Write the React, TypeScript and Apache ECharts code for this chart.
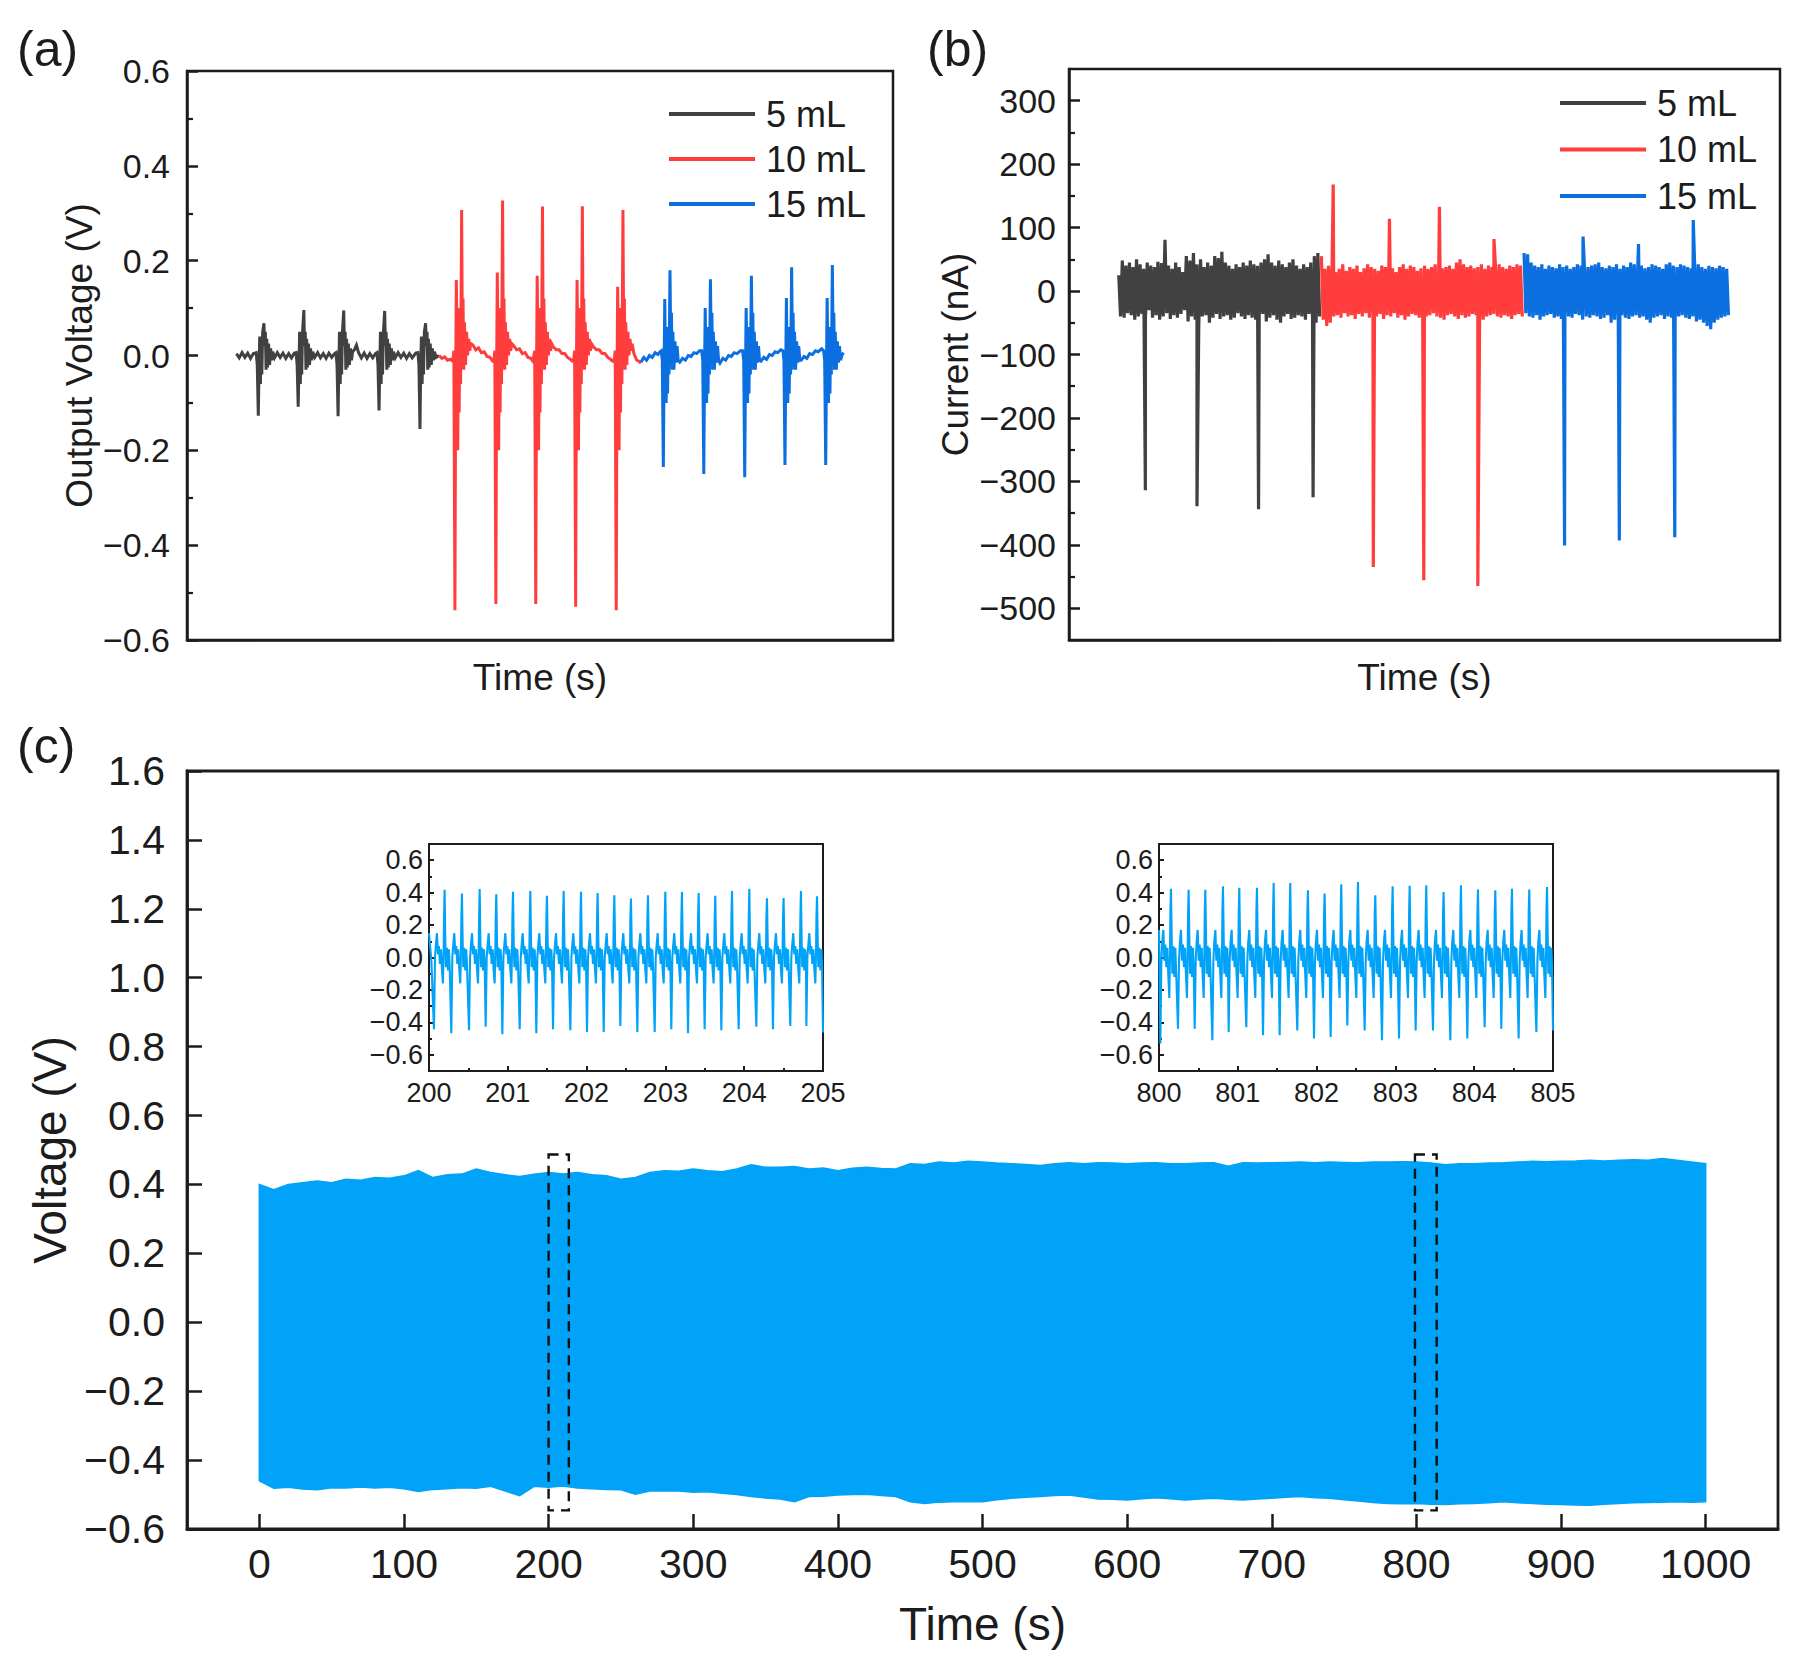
import React, { useEffect, useRef } from 'react';
import * as echarts from 'echarts';

const FONT = '"Liberation Sans", Arial, Helvetica, sans-serif';
const INK = '#1c1c1c';
const C_BLACK = '#414141';
const C_RED = '#ff3d3d';
const C_BLUE = '#0b6fe0';
const C_SKY = '#00a3f8';

const SERIES_NAMES = ['5 mL', '10 mL', '15 mL'];

// ---------- panel (a): output voltage (V), arbitrary time 0..100 ----------
const aBlackBase = [
  [7.0, 0.004], [7.4, -0.005], [7.8, 0.006], [8.2, -0.004], [8.6, 0.005], [9.0, -0.006], [9.4, 0.004],
  [12.4, -0.005], [12.8, 0.006], [13.2, -0.004], [13.6, 0.005], [14.0, -0.006], [14.4, 0.004], [14.8, -0.005], [15.2, 0.005],
  [18.1, -0.004], [18.5, 0.006], [18.9, -0.005], [19.3, 0.004], [19.7, -0.006], [20.1, 0.005], [20.5, -0.004], [20.9, 0.004],
  [23.7, 0.012], [24.0, 0.022], [24.3, 0.006], [24.7, -0.005], [25.1, 0.005], [25.5, -0.006], [25.9, 0.004], [26.3, -0.005], [26.7, 0.004],
  [29.5, -0.005], [29.9, 0.006], [30.3, -0.004], [30.7, 0.005], [31.1, -0.006], [31.5, 0.004], [31.9, -0.005], [32.4, 0.005],
  [35.3, -0.004], [35.7, 0.0],
];
const aBlackTimes = [10.1, 15.75, 21.4, 27.2, 33.0];
const aBlackDown = [-0.127, -0.108, -0.128, -0.116, -0.155];
const aBlackUp = [0.068, 0.096, 0.095, 0.094, 0.068];
const aBlackShoulder = [0.04, 0.05, 0.05, 0.05, 0.04];
const aBlackTpl = [
  [-0.3, 0.006], [-0.15, -0.02], [0, 'D'], [0.1, -0.03], [0.2, 'S'], [0.3, -0.06], [0.4, 0.04], [0.5, -0.04],
  [0.62, 0.05], [0.8, 'U'], [0.9, 0.02], [1.0, 0.05], [1.1, -0.03], [1.2, 0.035], [1.3, -0.025], [1.45, 0.025],
  [1.6, -0.02], [1.75, 0.015], [1.9, -0.01], [2.05, 0.008],
];

const aRedBase = [
  [35.7, 0.0], [36.1, -0.006], [36.5, -0.003], [36.9, -0.01], [37.3, -0.008],
  [40.5, 0.022], [40.9, 0.012], [41.3, 0.016], [41.7, 0.006], [42.1, 0.008], [42.5, -0.002], [42.9, -0.004], [43.3, -0.012],
  [46.3, 0.02], [46.7, 0.012], [47.1, 0.014], [47.5, 0.004], [47.9, 0.006], [48.3, -0.004], [48.7, -0.006], [49.0, -0.012],
  [51.9, 0.018], [52.3, 0.012], [52.7, 0.012], [53.1, 0.004], [53.5, 0.004], [53.9, -0.004], [54.3, -0.008], [54.6, -0.012],
  [57.6, 0.018], [58.0, 0.012], [58.4, 0.012], [58.8, 0.004], [59.2, 0.004], [59.6, -0.004], [60.0, -0.008], [60.3, -0.012],
  [63.3, 0.004], [63.7, -0.01], [64.0, -0.012], [64.3, -0.016],
];
const aRedTimes = [37.95, 43.75, 49.4, 55.05, 60.8];
const aRedDown = [-0.537, -0.524, -0.524, -0.53, -0.537];
const aRedUp = [0.307, 0.327, 0.314, 0.315, 0.307];
const aRedShoulder = [0.159, 0.175, 0.168, 0.159, 0.145];
const aRedTpl = [
  [-0.3, -0.012], [-0.15, 0.01], [0, 'D'], [0.1, -0.05], [0.2, 'S'], [0.3, 0.02], [0.4, -0.2], [0.5, 0.1],
  [0.6, -0.12], [0.7, 0.08], [0.8, -0.06], [0.95, 'U'], [1.05, 0.04], [1.15, 0.12], [1.25, -0.03], [1.35, 0.07],
  [1.5, -0.02], [1.65, 0.05], [1.8, 0.0], [1.95, 0.035], [2.1, 0.01], [2.25, 0.025],
];

const aBlueBase = [
  [64.3, -0.014], [64.7, -0.004], [65.1, -0.01], [65.5, 0.0], [65.9, -0.004], [66.3, 0.006], [66.7, 0.002], [67.0, 0.008],
  [69.8, -0.014], [70.2, -0.006], [70.6, -0.01], [71.0, 0.0], [71.4, -0.002], [71.8, 0.006], [72.2, 0.004], [72.6, 0.01],
  [75.5, -0.016], [75.9, -0.006], [76.3, -0.01], [76.7, 0.0], [77.1, -0.002], [77.5, 0.006], [77.9, 0.004], [78.4, 0.01],
  [81.3, -0.012], [81.7, -0.004], [82.1, -0.008], [82.5, 0.002], [82.9, 0.0], [83.3, 0.008], [83.7, 0.006], [84.1, 0.012],
  [87.0, -0.01], [87.4, -0.002], [87.8, -0.006], [88.2, 0.004], [88.6, 0.002], [89.0, 0.01], [89.4, 0.008], [89.9, 0.014],
  [92.8, 0.002], [93.0, 0.006],
];
const aBlueTimes = [67.47, 73.2, 79.0, 84.7, 90.47];
const aBlueDown = [-0.235, -0.25, -0.257, -0.231, -0.231];
const aBlueUp = [0.18, 0.161, 0.168, 0.186, 0.191];
const aBlueShoulder = [0.119, 0.1, 0.1, 0.121, 0.121];
const aBlueTpl = [
  [-0.3, 0.01], [-0.15, -0.01], [0, 'D'], [0.1, -0.04], [0.2, 'S'], [0.3, 0.0], [0.4, -0.1], [0.5, 0.06],
  [0.6, -0.08], [0.7, 0.05], [0.8, -0.04], [0.94, 'U'], [1.05, 0.03], [1.15, 0.09], [1.25, -0.03], [1.35, 0.05],
  [1.5, -0.03], [1.65, 0.03], [1.8, -0.015], [1.95, 0.02], [2.1, -0.01],
];

const aYMajor = [-0.6, -0.4, -0.2, 0, 0.2, 0.4, 0.6];
const aYMinor = [-0.5, -0.3, -0.1, 0.1, 0.3, 0.5];

// ---------- panel (b): current (nA), arbitrary time 0..100 ----------
const bBlackStart = 7.0;
const bBlackHi = [25, 48, 40, 45, 38, 50, 42, 35, 45, 40, 38, 46, 44, 81, 40, 35, 45, 38, 30, 55, 48, 60, 42, 50, 38, 45, 40, 55, 52, 62, 45, 40, 35, 42, 38, 45, 40, 48, 42, 40, 45, 50, 58, 45, 40, 48, 42, 38, 45, 50, 40, 35, 42, 38, 45, 55, 60];
const bBlackLo = [-40, -42, -35, -38, -45, -40, -36, -44, -30, -42, -38, -45, -40, -35, -44, -38, -42, -36, -30, -48, -40, -45, -55, -40, -38, -50, -42, -36, -44, -40, -38, -45, -42, -35, -40, -44, -38, -42, -45, -40, -36, -48, -42, -38, -45, -50, -40, -36, -44, -42, -38, -40, -45, -36, -42, -50, -40];
const bBlackSpikes = [[10.74, -314], [18.0, -339], [26.66, -344], [34.33, -325]];

const bRedStart = 35.5;
const bRedHi = [55, 35, 40, 38, 30, 35, 42, 32, 38, 35, 40, 30, 36, 42, 38, 35, 32, 40, 38, 45, 36, 30, 38, 42, 35, 40, 38, 32, 36, 40, 35, 38, 42, 30, 36, 38, 40, 35, 45, 50, 42, 38, 40, 36, 38, 42, 35, 40, 38, 36, 42, 38, 35, 40, 38, 42, 40];
const bRedLo = [-45, -55, -50, -40, -38, -42, -35, -40, -38, -44, -36, -40, -35, -42, -38, -40, -36, -44, -38, -40, -35, -42, -38, -45, -40, -36, -38, -42, -44, -40, -38, -35, -40, -42, -45, -38, -36, -40, -44, -38, -42, -40, -36, -38, -42, -45, -40, -38, -36, -40, -42, -38, -40, -44, -38, -36, -40];
const bRedSpikes = [[37.16, 168], [45.07, 114], [52.1, 133], [59.77, 82], [42.8, -435], [49.9, -456], [57.5, -465]];

const bBlueStart = 64.0;
const bBlueHi = [60, 58, 45, 40, 38, 42, 35, 40, 38, 36, 42, 38, 40, 35, 38, 42, 40, 36, 38, 40, 42, 45, 38, 36, 40, 38, 42, 35, 40, 38, 45, 42, 38, 40, 36, 38, 42, 40, 38, 35, 42, 45, 40, 38, 42, 40, 38, 36, 40, 42, 38, 35, 40, 38, 36, 40, 38, 35];
const bBlueLo = [-35, -40, -42, -38, -45, -40, -38, -36, -42, -40, -44, -38, -40, -42, -36, -38, -45, -40, -42, -38, -40, -44, -42, -38, -50, -45, -40, -38, -42, -44, -40, -38, -42, -40, -45, -50, -42, -40, -38, -44, -40, -42, -45, -40, -38, -42, -44, -40, -48, -45, -50, -55, -60, -50, -45, -42, -40, -38];
const bBlueSpikes = [[72.3, 86], [80.1, 74], [87.8, 112], [69.7, -401], [77.4, -393], [85.2, -388]];

const bYMajor = [-500, -400, -300, -200, -100, 0, 100, 200, 300];
const bYMinor = [-450, -350, -250, -150, -50, 50, 150, 250];

// ---------- panel (c): voltage envelope over 1000 s (every 10 s) ----------
const cUpper = [0.40, 0.385, 0.40, 0.405, 0.41, 0.405, 0.415, 0.412, 0.42, 0.418,
  0.425, 0.44, 0.42, 0.428, 0.43, 0.445, 0.435, 0.428, 0.423, 0.43,
  0.435, 0.43, 0.435, 0.428, 0.425, 0.415, 0.42, 0.435, 0.44, 0.438,
  0.445, 0.44, 0.437, 0.445, 0.457, 0.45, 0.45, 0.452, 0.445, 0.448,
  0.44, 0.447, 0.45, 0.446, 0.445, 0.46, 0.458, 0.465, 0.462, 0.467,
  0.465, 0.462, 0.46, 0.458, 0.455, 0.46, 0.463, 0.46, 0.463, 0.462,
  0.46, 0.462, 0.463, 0.46, 0.46, 0.462, 0.463, 0.453, 0.463, 0.462,
  0.463, 0.464, 0.465, 0.463, 0.465, 0.464, 0.463, 0.465, 0.465, 0.466,
  0.465, 0.462, 0.457, 0.46, 0.46, 0.462, 0.463, 0.465, 0.467, 0.466,
  0.467, 0.468, 0.47, 0.468, 0.47, 0.472, 0.47, 0.475, 0.47, 0.465, 0.46];
const cLower = [-0.46, -0.482, -0.479, -0.484, -0.486, -0.48, -0.481, -0.478, -0.481, -0.479,
  -0.483, -0.491, -0.485, -0.483, -0.48, -0.482, -0.476, -0.49, -0.503, -0.476,
  -0.479, -0.475, -0.481, -0.483, -0.485, -0.486, -0.499, -0.49, -0.489, -0.49,
  -0.493, -0.492, -0.496, -0.5, -0.506, -0.51, -0.513, -0.521, -0.506, -0.505,
  -0.501, -0.5, -0.499, -0.503, -0.506, -0.521, -0.526, -0.522, -0.521, -0.52,
  -0.521, -0.515, -0.511, -0.508, -0.506, -0.503, -0.501, -0.507, -0.513, -0.514,
  -0.516, -0.512, -0.509, -0.512, -0.516, -0.513, -0.511, -0.514, -0.516, -0.513,
  -0.511, -0.508, -0.506, -0.509, -0.511, -0.515, -0.519, -0.523, -0.526, -0.527,
  -0.526, -0.528, -0.529, -0.527, -0.526, -0.524, -0.521, -0.524, -0.526, -0.528,
  -0.529, -0.53, -0.531, -0.528, -0.526, -0.524, -0.523, -0.522, -0.521, -0.522, -0.521];
const cStep = 10;
const cXTicks = [0, 100, 200, 300, 400, 500, 600, 700, 800, 900, 1000];
const cYTicks = [-0.6, -0.4, -0.2, 0, 0.2, 0.4, 0.6, 0.8, 1.0, 1.2, 1.4, 1.6];
// zoom windows: [t start, t end, V top, V bottom]
const zoomBoxes = [
  [200, 214, 0.487, -0.546],
  [799, 814, 0.487, -0.546],
];

// ---------- insets ----------
const in1Start = [[200.0, 0.15], [200.03, -0.02]];
const in1NegT = [200.063, 200.283, 200.508, 200.719, 200.931, 201.151, 201.362, 201.574, 201.794, 202.005, 202.217, 202.428, 202.644, 202.864, 203.075, 203.287, 203.498, 203.71, 203.93, 204.154, 204.365, 204.585, 204.789, 205.0];
const in1NegV = [-0.443, -0.467, -0.449, -0.427, -0.473, -0.443, -0.467, -0.443, -0.449, -0.459, -0.459, -0.422, -0.459, -0.459, -0.443, -0.467, -0.443, -0.449, -0.443, -0.427, -0.443, -0.422, -0.422, -0.463];
const in1PosV = [0.418, 0.394, 0.422, 0.39, 0.406, 0.41, 0.38, 0.41, 0.406, 0.398, 0.384, 0.363, 0.384, 0.406, 0.404, 0.398, 0.38, 0.41, 0.424, 0.365, 0.367, 0.41, 0.378];
const in1Tpl = [
  [0.013, 0.0], [0.025, 0.08], [0.038, 0.15], [0.051, 0.02], [0.063, 0.07], [0.076, -0.04], [0.089, 0.05],
  [0.102, -0.08], [0.114, -0.16], [0.123, 0.05], [0.128, 0.25], [0.135, 'P'], [0.144, 0.1], [0.152, -0.06],
  [0.165, 0.06], [0.178, -0.08], [0.19, 0.05], [0.199, -0.05],
];

const in2Start = [[800.0, 0.17], [800.008, -0.1]];
const in2NegT = [800.017, 800.241, 800.453, 800.677, 800.884, 801.108, 801.32, 801.531, 801.755, 801.967, 802.178, 802.39, 802.61, 802.83, 803.046, 803.257, 803.477, 803.697, 803.913, 804.133, 804.344, 804.564, 804.789, 805.0];
const in2NegV = [-0.53, -0.44, -0.44, -0.51, -0.46, -0.43, -0.48, -0.48, -0.45, -0.5, -0.49, -0.42, -0.45, -0.51, -0.5, -0.45, -0.45, -0.51, -0.5, -0.43, -0.44, -0.5, -0.46, -0.45];
const in2PosV = [0.424, 0.418, 0.418, 0.439, 0.43, 0.43, 0.459, 0.459, 0.414, 0.394, 0.451, 0.465, 0.384, 0.439, 0.443, 0.445, 0.404, 0.445, 0.42, 0.414, 0.424, 0.42, 0.435];
const in2Tpl = [
  [0.013, -0.02], [0.025, 0.1], [0.038, 0.17], [0.051, -0.02], [0.063, 0.08], [0.076, -0.06], [0.089, 0.06],
  [0.102, -0.12], [0.114, -0.25], [0.123, 0.04], [0.128, 0.28], [0.135, 'P'], [0.144, 0.12], [0.152, -0.1],
  [0.165, 0.07], [0.178, -0.12], [0.19, 0.06], [0.199, -0.06],
];
const inYMajor = [-0.6, -0.4, -0.2, 0, 0.2, 0.4, 0.6];
const inYMinor = [-0.5, -0.3, -0.1, 0.1, 0.3, 0.5];

// ---------- builders ----------
function buildSpiky(base: number[][], tpl: any[][], times: number[], down: number[], up: number[], sh: number[]) {
  const pts: number[][] = base.map((p) => [p[0], p[1]]);
  times.forEach((t0, k) => {
    tpl.forEach(([dt, v]) => {
      const val = v === 'D' ? down[k] : v === 'U' ? up[k] : v === 'S' ? sh[k] : v;
      pts.push([t0 + dt, val]);
    });
  });
  pts.sort((a, b) => a[0] - b[0]);
  return pts;
}

function buildNoise(t0: number, hi: number[], lo: number[], spikes: number[][]) {
  const pts: number[][] = [];
  const n = Math.min(hi.length, lo.length);
  for (let i = 0; i < n; i++) {
    pts.push([t0 + 0.5 * i, hi[i]]);
    pts.push([t0 + 0.5 * i + 0.25, lo[i]]);
  }
  spikes.forEach((s) => pts.push([s[0], s[1]]));
  pts.sort((a, b) => a[0] - b[0]);
  return pts;
}

function buildInset(start: number[][], negT: number[], negV: number[], posV: number[], tpl: any[][]) {
  const pts: number[][] = start.map((p) => [p[0], p[1]]);
  negT.forEach((t0, k) => {
    pts.push([t0, negV[k]]);
    if (k < posV.length) {
      tpl.forEach(([dt, v]) => pts.push([t0 + dt, v === 'P' ? posV[k] : v]));
    }
  });
  pts.sort((a, b) => a[0] - b[0]);
  return pts;
}

const fmt1 = (v: number) => (v < -1e-9 ? '\u2212' + Math.abs(v).toFixed(1) : Math.abs(v).toFixed(1));
const fmt0 = (v: number) => (v < 0 ? '\u2212' + Math.abs(v) : String(v));
const fmtPlain = (v: number) => String(v);

function lineSeries(name: string, data: number[][], color: string, width: number, xi: number, yi: number) {
  return {
    type: 'line', name, data, xAxisIndex: xi, yAxisIndex: yi, symbol: 'none', showSymbol: false,
    lineStyle: { color, width, join: 'miter' }, itemStyle: { color }, silent: true, z: 3,
  };
}

function minorY(grid: number, min: number, max: number, vals: number[], len: number, w: number) {
  return {
    type: 'value', gridIndex: grid, min, max, position: 'left', offset: 0,
    axisLine: { show: false }, splitLine: { show: false }, axisLabel: { show: false },
    axisTick: { show: true, inside: true, length: len, customValues: vals, lineStyle: { color: INK, width: w } },
  };
}

export default function App() {
  const ref = useRef<HTMLDivElement>(null);
  useEffect(() => {
    document.body.style.margin = '0';
    if (!ref.current) return;
    const chart = echarts.init(ref.current, undefined, { renderer: 'svg' });

    const aBlack = buildSpiky(aBlackBase, aBlackTpl, aBlackTimes, aBlackDown, aBlackUp, aBlackShoulder);
    const aRed = buildSpiky(aRedBase, aRedTpl, aRedTimes, aRedDown, aRedUp, aRedShoulder);
    const aBlue = buildSpiky(aBlueBase, aBlueTpl, aBlueTimes, aBlueDown, aBlueUp, aBlueShoulder);
    const bBlack = buildNoise(bBlackStart, bBlackHi, bBlackLo, bBlackSpikes);
    const bRed = buildNoise(bRedStart, bRedHi, bRedLo, bRedSpikes);
    const bBlue = buildNoise(bBlueStart, bBlueHi, bBlueLo, bBlueSpikes);
    const in1 = buildInset(in1Start, in1NegT, in1NegV, in1PosV, in1Tpl);
    const in2 = buildInset(in2Start, in2NegT, in2NegV, in2PosV, in2Tpl);

    const axLine = (w: number) => ({ show: true, onZero: false, lineStyle: { color: INK, width: w } });
    const txt = (fs: number) => ({ fontSize: fs, color: INK, fontFamily: FONT });

    const gridBox = (left: number, top: number, width: number, height: number, bw: number) => ({
      left, top, width, height, show: true, borderColor: INK, borderWidth: bw, backgroundColor: 'rgba(0,0,0,0)',
    });

    const legendBase = (left: number, top: number, gap: number) => ({
      data: SERIES_NAMES, left, top, orient: 'vertical', icon: 'rect', itemWidth: 86, itemHeight: 4,
      itemGap: gap, selectedMode: false, padding: 0,
      textStyle: { fontSize: 36, color: INK, fontFamily: FONT, lineHeight: 36, padding: [0, 0, 0, 6] },
    });

    const option: any = {
      animation: false,
      textStyle: { fontFamily: FONT },
      grid: [
        gridBox(187, 71, 706, 569, 2.5),
        gridBox(1069, 69, 711, 571, 2.5),
        gridBox(187, 771, 1591, 758, 2.8),
        gridBox(429, 844, 394, 227, 2),
        gridBox(1159, 844, 394, 227, 2),
      ],
      legend: [legendBase(669, 96, 9), legendBase(1560, 85, 10.5)],
      xAxis: [
        {
          type: 'value', gridIndex: 0, min: 0, max: 100, axisLine: axLine(2.5), axisTick: { show: false },
          axisLabel: { show: false }, splitLine: { show: false },
          name: 'Time (s)', nameLocation: 'middle', nameGap: 19, nameTextStyle: txt(37),
        },
        {
          type: 'value', gridIndex: 1, min: 0, max: 100, axisLine: axLine(2.5), axisTick: { show: false },
          axisLabel: { show: false }, splitLine: { show: false },
          name: 'Time (s)', nameLocation: 'middle', nameGap: 19, nameTextStyle: txt(37),
        },
        {
          type: 'value', gridIndex: 2, min: -50, max: 1050, axisLine: axLine(2.8), splitLine: { show: false },
          axisTick: { show: true, inside: true, length: 15, customValues: cXTicks, lineStyle: { color: INK, width: 2.5 } },
          axisLabel: { ...txt(41), customValues: cXTicks, margin: 14, formatter: fmtPlain },
          name: 'Time (s)', nameLocation: 'middle', nameGap: 72, nameTextStyle: txt(46),
        },
        {
          type: 'value', gridIndex: 3, min: 200, max: 205, interval: 1, axisLine: axLine(2), splitLine: { show: false },
          axisTick: { show: true, inside: true, length: 5, lineStyle: { color: INK, width: 2 } },
          minorTick: { show: true, splitNumber: 2, length: 3, lineStyle: { color: INK, width: 2 } },
          axisLabel: { ...txt(27), margin: 8, formatter: fmtPlain },
        },
        {
          type: 'value', gridIndex: 4, min: 800, max: 805, interval: 1, axisLine: axLine(2), splitLine: { show: false },
          axisTick: { show: true, inside: true, length: 5, lineStyle: { color: INK, width: 2 } },
          minorTick: { show: true, splitNumber: 2, length: 3, lineStyle: { color: INK, width: 2 } },
          axisLabel: { ...txt(27), margin: 8, formatter: fmtPlain },
        },
      ],
      yAxis: [
        {
          type: 'value', gridIndex: 0, min: -0.6, max: 0.6, axisLine: axLine(2.5), splitLine: { show: false },
          axisTick: { show: true, inside: true, length: 11, customValues: aYMajor, lineStyle: { color: INK, width: 2.5 } },
          axisLabel: { ...txt(34), customValues: aYMajor, margin: 17, formatter: fmt1 },
          name: 'Output Voltage (V)', nameLocation: 'middle', nameGap: 89, nameTextStyle: txt(37),
        },
        minorY(0, -0.6, 0.6, aYMinor, 6, 2.2),
        {
          type: 'value', gridIndex: 1, min: -550, max: 350, axisLine: axLine(2.5), splitLine: { show: false },
          axisTick: { show: true, inside: true, length: 11, customValues: bYMajor, lineStyle: { color: INK, width: 2.5 } },
          axisLabel: { ...txt(34), customValues: bYMajor, margin: 13, formatter: fmt0 },
          name: 'Current (nA)', nameLocation: 'middle', nameGap: 95, nameTextStyle: txt(37),
        },
        minorY(1, -550, 350, bYMinor, 6, 2.2),
        {
          type: 'value', gridIndex: 2, min: -0.6, max: 1.6, axisLine: axLine(2.8), splitLine: { show: false },
          axisTick: { show: true, inside: true, length: 15, customValues: cYTicks, lineStyle: { color: INK, width: 2.5 } },
          axisLabel: { ...txt(41), customValues: cYTicks, margin: 22, formatter: fmt1 },
          name: 'Voltage (V)', nameLocation: 'middle', nameGap: 110, nameTextStyle: txt(46),
        },
        {
          type: 'value', gridIndex: 3, min: -0.7, max: 0.7, axisLine: axLine(2), splitLine: { show: false },
          axisTick: { show: true, inside: true, length: 5, customValues: inYMajor, lineStyle: { color: INK, width: 2 } },
          axisLabel: { ...txt(27), customValues: inYMajor, margin: 6, formatter: fmt1 },
        },
        minorY(3, -0.7, 0.7, inYMinor, 3, 2),
        {
          type: 'value', gridIndex: 4, min: -0.7, max: 0.7, axisLine: axLine(2), splitLine: { show: false },
          axisTick: { show: true, inside: true, length: 5, customValues: inYMajor, lineStyle: { color: INK, width: 2 } },
          axisLabel: { ...txt(27), customValues: inYMajor, margin: 6, formatter: fmt1 },
        },
        minorY(4, -0.7, 0.7, inYMinor, 3, 2),
      ],
      series: [
        lineSeries(SERIES_NAMES[0], aBlack, C_BLACK, 3, 0, 0),
        lineSeries(SERIES_NAMES[1], aRed, C_RED, 3, 0, 0),
        lineSeries(SERIES_NAMES[2], aBlue, C_BLUE, 3, 0, 0),
        lineSeries(SERIES_NAMES[0], bBlack, C_BLACK, 3.2, 1, 2),
        lineSeries(SERIES_NAMES[1], bRed, C_RED, 3.2, 1, 2),
        lineSeries(SERIES_NAMES[2], bBlue, C_BLUE, 3.2, 1, 2),
        {
          type: 'custom', name: 'envelope', xAxisIndex: 2, yAxisIndex: 4, data: [[0, 0]], silent: true, z: 2,
          renderItem: (_params: any, api: any) => {
            const top = cUpper.map((v, i) => api.coord([i * cStep, v]));
            const bot = cLower.map((v, i) => api.coord([i * cStep, v])).reverse();
            const boxes = zoomBoxes.map((b) => {
              const p1 = api.coord([b[0], b[2]]);
              const p2 = api.coord([b[1], b[3]]);
              return {
                type: 'rect',
                shape: { x: p1[0], y: p1[1], width: p2[0] - p1[0], height: p2[1] - p1[1] },
                style: { fill: 'none', stroke: '#111', lineWidth: 2.4, lineDash: [10, 7] },
                z2: 10,
              };
            });
            return {
              type: 'group',
              children: [
                {
                  type: 'polygon',
                  shape: { points: top.concat(bot) },
                  style: { fill: C_SKY, stroke: C_SKY, lineWidth: 1.5 },
                },
                ...boxes,
              ],
            };
          },
        },
        lineSeries('inset1', in1, C_SKY, 2.1, 3, 5),
        lineSeries('inset2', in2, C_SKY, 2.1, 4, 7),
      ],
      graphic: [
        { type: 'text', left: 17, top: 24, style: { text: '(a)', fontSize: 50, fontFamily: FONT, fill: INK } },
        { type: 'text', left: 927, top: 24, style: { text: '(b)', fontSize: 50, fontFamily: FONT, fill: INK } },
        { type: 'text', left: 17, top: 721, style: { text: '(c)', fontSize: 50, fontFamily: FONT, fill: INK } },
      ],
    };
    chart.setOption(option);
    return () => chart.dispose();
  }, []);
  return <div ref={ref} style={{ width: 1799, height: 1666 }} />;
}
